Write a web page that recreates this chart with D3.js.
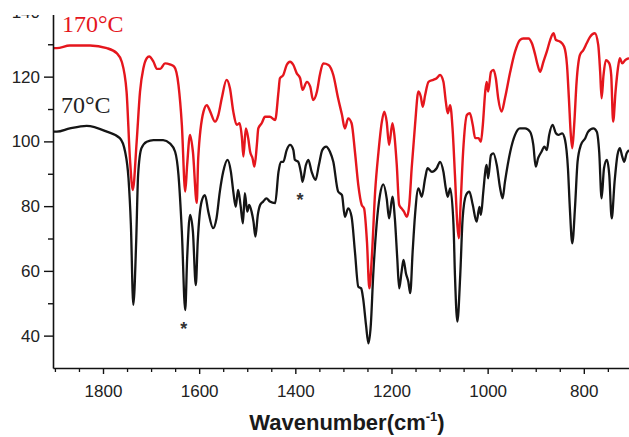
<!DOCTYPE html>
<html>
<head>
<meta charset="utf-8">
<script src="https://cdnjs.cloudflare.com/ajax/libs/d3/7.8.5/d3.min.js"></script>
<style>
  html, body { margin: 0; padding: 0; background: #fff; }
  svg { display: block; }
  .axis path, .axis line { stroke: #111; }
  .axis text { font-family: "Liberation Sans", Arial, sans-serif; font-size: 17px; fill: #222; }
</style>
</head>
<body>
<div id="chart"></div>
<script>
// FTIR spectra, wavenumber (cm-1) vs transmittance (offset).
const spectrum170 = [
  [1904,128.8],[1896,128.8],[1869,129.6],[1827,129.6],[1792,128.8],[1771,127.2],[1761,124.6],[1751,115.4],
  [1744,94.8],[1738,85.0],[1730,99.9],[1723,115.4],[1716,122.6],[1709,125.7],[1704,126.2],[1695,124.6],
  [1688,122.4],[1681,122.4],[1671,124.1],[1661,123.8],[1652,123.1],[1643,117.4],[1636,105.1],[1629,84.5],
  [1625,92.7],[1619,102.0],[1613,96.8],[1605,81.0],[1602,94.8],[1591,109.2],[1584,111.2],[1577,109.2],
  [1567,106.1],[1560,108.2],[1553,113.3],[1543,119.0],[1536,116.4],[1529,109.2],[1522,105.1],[1516,105.6],
  [1511,101.0],[1508,95.3],[1503,104.0],[1498,101.0],[1494,96.8],[1489,94.8],[1485,92.2],[1480,98.9],
  [1477,104.0],[1470,105.6],[1463,107.6],[1453,107.6],[1442,106.6],[1435,115.4],[1432,119.5],[1425,120.5],
  [1418,123.6],[1411,124.6],[1404,123.6],[1397,121.0],[1390,119.5],[1385,115.9],[1376,118.4],[1369,116.9],
  [1363,112.8],[1355,115.4],[1349,120.5],[1342,124.1],[1331,123.6],[1321,120.5],[1311,113.3],[1303,108.2],
  [1297,104.0],[1290,107.1],[1283,105.6],[1276,96.8],[1269,86.5],[1262,80.4],[1257,79.3],[1251,69.0],
  [1246,54.6],[1241,63.9],[1234,84.5],[1227,96.8],[1220,106.1],[1215,109.2],[1210,106.1],[1205,98.9],
  [1198,105.6],[1194,102.0],[1189,92.7],[1184,80.4],[1179,79.3],[1174,78.3],[1168,76.7],[1163,80.4],
  [1158,91.7],[1151,105.1],[1144,115.4],[1139,113.8],[1135,110.7],[1130,114.3],[1123,118.4],[1113,119.0],
  [1106,119.5],[1099,120.5],[1092,118.4],[1087,112.3],[1083,108.7],[1078,111.2],[1073,104.0],[1068,89.6],
  [1063,74.2],[1060,70.1],[1056,81.4],[1051,96.8],[1043,108.2],[1037,108.7],[1031,105.1],[1026,101.0],
  [1019,101.0],[1014,99.9],[1010,105.1],[1005,115.4],[1002,118.4],[999,115.4],[993,121.5],[988,122.1],
  [983,119.5],[978,113.3],[971,109.2],[964,113.3],[953,121.5],[943,127.7],[933,131.3],[926,131.8],
  [915,131.8],[908,130.3],[901,126.7],[896,123.6],[891,121.5],[884,124.6],[877,127.7],[870,131.3],
  [863,133.4],[858,131.3],[849,130.8],[841,129.3],[835,123.6],[831,113.3],[827,102.0],[824,97.9],
  [820,105.1],[815,118.4],[808,126.7],[801,128.2],[794,130.3],[787,132.3],[777,133.4],[770,129.8],
  [766,121.5],[763,113.3],[759,120.5],[754,125.1],[747,124.1],[743,120.5],[739,106.1],[734,115.4],
  [729,122.6],[725,125.7],[720,124.1],[714,125.1],[706,125.7]
];

const spectrum70 = [
  [1904,103.0],[1896,103.0],[1869,104.0],[1834,104.8],[1792,103.0],[1765,101.0],[1754,96.8],[1747,88.6],
  [1742,74.2],[1737,49.5],[1731,69.0],[1727,89.6],[1720,97.9],[1709,99.9],[1695,100.4],[1675,100.4],
  [1661,99.4],[1650,96.8],[1643,89.6],[1636,72.1],[1629,47.9],[1625,63.9],[1619,77.3],[1613,72.1],
  [1607,55.6],[1603,69.0],[1595,81.4],[1588,83.4],[1581,78.3],[1571,73.2],[1564,76.2],[1557,84.5],
  [1550,90.6],[1541,94.3],[1534,90.6],[1529,84.5],[1524,79.8],[1519,85.0],[1514,80.4],[1509,74.7],
  [1505,84.0],[1500,78.3],[1496,80.4],[1491,78.3],[1487,75.2],[1483,70.6],[1478,77.3],[1473,80.4],
  [1467,81.4],[1460,82.4],[1453,81.4],[1442,80.9],[1435,90.6],[1430,93.7],[1425,93.7],[1418,97.3],
  [1411,98.9],[1404,97.3],[1401,94.3],[1394,93.7],[1388,90.1],[1385,87.5],[1378,92.7],[1373,94.3],
  [1366,90.6],[1358,88.1],[1351,92.7],[1344,97.3],[1336,98.4],[1328,96.8],[1321,93.7],[1311,84.5],
  [1303,83.4],[1297,76.7],[1290,79.3],[1283,76.7],[1276,65.9],[1269,55.1],[1263,54.6],[1259,51.5],
  [1253,43.3],[1248,37.6],[1243,43.3],[1238,58.7],[1231,74.2],[1224,83.4],[1217,86.7],[1210,82.4],
  [1205,76.2],[1198,82.9],[1193,76.2],[1188,63.9],[1184,54.6],[1179,59.7],[1175,63.4],[1170,59.3],
  [1165,56.7],[1161,53.1],[1156,65.9],[1151,77.3],[1144,85.5],[1137,82.9],[1130,88.6],[1125,91.7],
  [1116,90.6],[1106,91.7],[1099,93.7],[1092,90.6],[1087,85.5],[1083,82.9],[1078,85.5],[1071,74.2],
  [1068,58.7],[1063,44.3],[1057,58.7],[1052,76.2],[1045,83.4],[1038,84.5],[1031,80.4],[1023,75.2],
  [1017,79.8],[1014,77.3],[1009,84.5],[1004,91.7],[1002,92.7],[999,88.6],[993,95.8],[988,96.3],
  [981,92.7],[974,85.5],[969,82.4],[964,87.5],[953,96.8],[943,102.0],[933,104.0],[922,104.0],
  [912,103.0],[905,98.9],[900,92.2],[895,94.8],[888,96.8],[882,98.4],[877,97.3],[872,102.0],
  [865,105.1],[858,102.5],[853,102.0],[845,102.5],[839,100.4],[833,91.7],[829,79.3],[824,68.5],
  [818,80.4],[813,93.7],[806,98.9],[797,101.0],[791,103.0],[780,104.0],[773,103.0],[768,96.8],
  [763,82.4],[758,91.7],[752,94.3],[747,89.6],[742,76.2],[736,87.5],[730,95.8],[725,97.9],
  [720,95.3],[716,93.7],[711,96.3],[706,97.3]
];

// starred bands (wavenumber, transmittance)
const starMarks = [[1632, 43.4], [1390, 83.2]];

const xMajorTicks = [1800, 1600, 1400, 1200, 1000, 800];
const yMajorTicks = [40, 60, 80, 100, 120, 140];
const yMinorTicks = [50, 70, 90, 110, 130];

const W = 629, H = 437;
const plot = { left: 53, right: 629, top: 11.9, bottom: 368 };

const svg = d3.select("#chart").append("svg")
  .attr("width", W).attr("height", H)
  .attr("viewBox", `0 0 ${W} ${H}`);

const x = d3.scaleLinear().domain([1904, 706]).range([plot.left, plot.right]);
const y = d3.scaleLinear().domain([30, 140]).range([plot.bottom, plot.top]);

svg.append("defs").append("clipPath").attr("id", "plot-clip")
  .append("rect")
  .attr("x", plot.left).attr("y", 0)
  .attr("width", plot.right - plot.left).attr("height", plot.bottom);

const line = d3.line()
  .x((d) => x(d[0]))
  .y((d) => y(d[1]))
  .curve(d3.curveMonotoneX);

const gLines = svg.append("g").attr("clip-path", "url(#plot-clip)");
gLines.append("path")
  .datum(spectrum70)
  .attr("d", line)
  .attr("fill", "none")
  .attr("stroke", "#151515")
  .attr("stroke-width", 2.3)
  .attr("stroke-linejoin", "round");
gLines.append("path")
  .datum(spectrum170)
  .attr("d", line)
  .attr("fill", "none")
  .attr("stroke", "#e5161d")
  .attr("stroke-width", 2.4)
  .attr("stroke-linejoin", "round");

// asterisks
svg.append("g").selectAll("text")
  .data(starMarks)
  .join("text")
  .attr("x", (d) => x(d[0]))
  .attr("y", (d) => y(d[1]) + 10)
  .attr("text-anchor", "middle")
  .attr("font-family", "Liberation Sans, Arial, sans-serif")
  .attr("font-weight", "bold")
  .attr("font-size", 18)
  .attr("fill", "#333")
  .text("*");

// y axis
const yAxis = svg.append("g").attr("class", "axis")
  .attr("transform", `translate(${plot.left},0)`)
  .call(d3.axisLeft(y).tickValues(yMajorTicks).tickSize(9).tickPadding(4).tickSizeOuter(0));
yAxis.select(".domain").attr("stroke-width", 1.6);
yAxis.selectAll(".tick line").attr("stroke-width", 1.4);

svg.append("g").attr("class", "axis")
  .attr("transform", `translate(${plot.left},0)`)
  .call(d3.axisLeft(y).tickValues(yMinorTicks).tickSize(5).tickFormat("").tickSizeOuter(0))
  .call((g) => g.select(".domain").remove())
  .selectAll(".tick line").attr("stroke-width", 1.4);

// x axis
const xAxis = svg.append("g").attr("class", "axis")
  .attr("transform", `translate(0,${plot.bottom})`)
  .call(d3.axisBottom(x).tickValues(xMajorTicks).tickFormat(d3.format("d"))
    .tickSize(6).tickPadding(11).tickSizeOuter(0));
xAxis.select(".domain").attr("stroke-width", 1.6);
xAxis.selectAll(".tick line").attr("stroke-width", 1.4);

const xMinorTicks = d3.range(750, 1901, 50).filter((v) => v % 200 !== 0);
svg.append("g").attr("class", "axis")
  .attr("transform", `translate(0,${plot.bottom})`)
  .call(d3.axisBottom(x).tickValues(xMinorTicks).tickSize(4).tickFormat("").tickSizeOuter(0))
  .call((g) => g.select(".domain").remove())
  .selectAll(".tick line").attr("stroke-width", 1.3);

// the figure is cropped at the top-left corner
svg.append("rect")
  .attr("x", 0).attr("y", 0).attr("width", 58).attr("height", 15)
  .attr("fill", "#fff");

// axis title
const title = svg.append("text")
  .attr("x", 347).attr("y", 430)
  .attr("text-anchor", "middle")
  .attr("font-family", "Liberation Sans, Arial, sans-serif")
  .attr("font-weight", "bold")
  .attr("font-size", 22)
  .attr("fill", "#1a1a1a");
title.append("tspan").text("Wavenumber(cm");
title.append("tspan").attr("font-size", 13).attr("dy", -9).text("-1");
title.append("tspan").attr("dy", 9).text(")");

// series labels
svg.append("text")
  .attr("x", 62).attr("y", 32)
  .attr("font-family", "Liberation Serif, Times New Roman, serif")
  .attr("font-size", 24)
  .attr("fill", "#e5161d")
  .text("170°C");
svg.append("text")
  .attr("x", 61).attr("y", 113)
  .attr("font-family", "Liberation Serif, Times New Roman, serif")
  .attr("font-size", 24)
  .attr("fill", "#222")
  .text("70°C");
</script>
</body>
</html>
